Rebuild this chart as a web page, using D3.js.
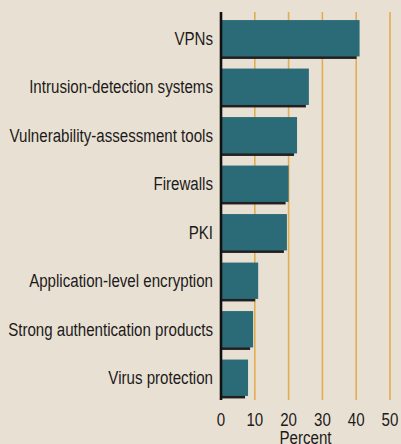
<!DOCTYPE html>
<html>
<head>
<meta charset="utf-8">
<script src="https://cdn.jsdelivr.net/npm/d3@7"></script>
<style>
  html, body { margin: 0; padding: 0; background: #e8e1d3; }
  svg { display: block; }
  text { font-family: "Liberation Sans Narrow", "Liberation Sans", sans-serif; fill: #1c1a1a; }
</style>
</head>
<body>
<svg id="chart" width="401" height="444"></svg>
<script>
(function(){
'use strict';

// survey categories, top to bottom
var categories = [
    "VPNs",
    "Intrusion-detection systems",
    "Vulnerability-assessment tools",
    "Firewalls",
    "PKI",
    "Application-level encryption",
    "Strong authentication products",
    "Virus protection"
];
var percents = [41, 26, 22.5, 20, 19.5, 11, 9.5, 8];
var tickValues = [0, 10, 20, 30, 40, 50];
var axisTitle = "Percent";

var width = 401, height = 444,
    margin = {top: 12, left: 221, right: 11, bottom: 44},
    fontSize = 19,
    longestLabelWidth = 205;   // width the widest label takes in the original

var svg = d3.select('#chart');

var x = d3.scaleLinear()
    .domain([0, 50])
    .range([margin.left, width - margin.right]);

var y = d3.scaleBand()
    .domain(categories)
    .range([margin.top + 2, height - margin.bottom + 2])
    .paddingInner(0.25)
    .paddingOuter(0.125);

// vertical grid lines
svg.append('g').attr('class', 'grid')
    .selectAll('line').data(tickValues.slice(1))
    .enter().append('line')
    .attr('x1', function(d) { return x(d); })
    .attr('x2', function(d) { return x(d); })
    .attr('y1', margin.top)
    .attr('y2', height - margin.bottom)
    .attr('stroke', '#e3ab52')
    .attr('stroke-width', 1.6);

var bars = svg.append('g').attr('class', 'bars')
    .selectAll('g').data(categories)
    .enter().append('g');

// dark drop shadow under each bar
bars.append('rect')
    .attr('x', x(0))
    .attr('y', function(d) { return y(d) + 2.5; })
    .attr('width', function(d, i) { return Math.max(0, x(percents[i]) - x(0) - 3); })
    .attr('height', y.bandwidth())
    .attr('fill', '#231f20');

bars.append('rect')
    .attr('x', x(0) + 1)
    .attr('y', function(d) { return y(d); })
    .attr('width', function(d, i) { return x(percents[i]) - x(0) - 1; })
    .attr('height', y.bandwidth())
    .attr('fill', '#2a6b77');

// condensed type: measure the longest label and squeeze everything by the same factor
var probe = svg.append('text').attr('font-size', fontSize)
    .text(categories.reduce(function(a, b) { return a.length > b.length ? a : b; }));
var squeeze = Math.min(1, longestLabelWidth / probe.node().getComputedTextLength());
probe.remove();

function squeezed(px, py) {
    return 'translate(' + px + ',' + py + ') scale(' + squeeze + ',1)';
}

// category labels
svg.append('g').attr('class', 'labels')
    .selectAll('text').data(categories)
    .enter().append('text')
    .attr('transform', function(d) { return squeezed(margin.left - 8, y(d) + y.bandwidth() / 2); })
    .attr('dy', '0.35em')
    .attr('text-anchor', 'end')
    .attr('font-size', fontSize)
    .text(function(d) { return d; });

// the axis line
svg.append('line')
    .attr('x1', x(0)).attr('x2', x(0))
    .attr('y1', margin.top)
    .attr('y2', height - margin.bottom)
    .attr('stroke', '#111')
    .attr('stroke-width', 2.6);

// tick labels
svg.append('g').attr('class', 'ticks')
    .selectAll('text').data(tickValues)
    .enter().append('text')
    .attr('transform', function(d) { return squeezed(x(d), 425.5); })
    .attr('text-anchor', 'middle')
    .attr('font-size', fontSize)
    .text(function(d) { return d; });

svg.append('text')
    .attr('transform', squeezed(x(25), 443.5))
    .attr('text-anchor', 'middle')
    .attr('font-size', fontSize)
    .text(axisTitle);

})();
</script>
</body>
</html>
